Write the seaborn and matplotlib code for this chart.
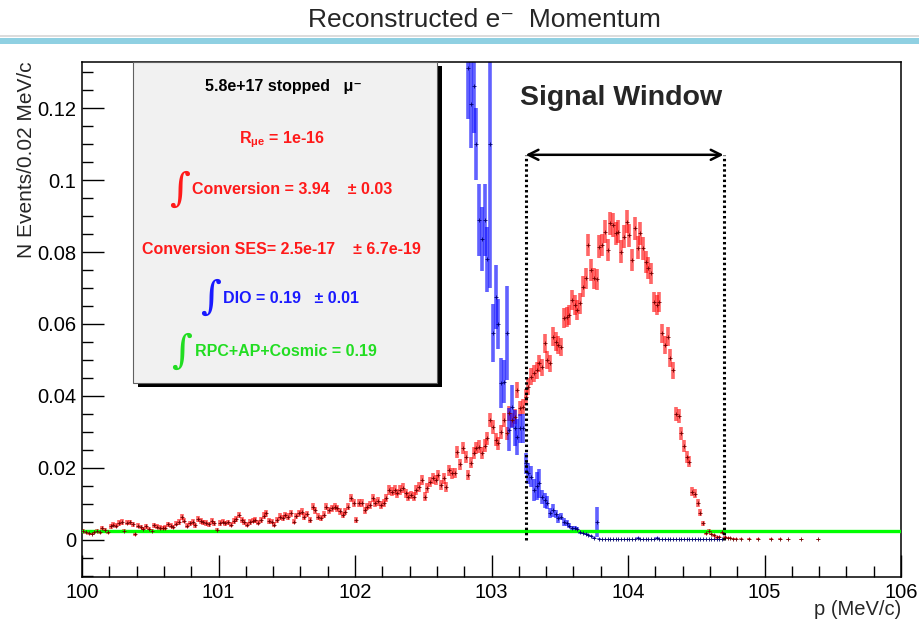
import matplotlib
matplotlib.use("Agg")
import matplotlib.pyplot as plt
from matplotlib.patches import Rectangle
from matplotlib.ticker import FixedLocator, MultipleLocator
import seaborn as sns
import pandas as pd
import numpy as np

# histogram binning (MeV/c)
p_min = 100.0
bin_width = 0.02

# conversion electrons: N events per 0.02 MeV/c bin, first bin starts at 100.00
conversion = [
    0.0025, 0.0021, 0.0019, 0.0018, 0.0023, 0.0024, 0.0022, 0.0032, 0.0027, 0.0023,
    0.0038, 0.0042, 0.0040, 0.0047, 0.0050, 0.0024, 0.0048, 0.0049, 0.0044, 0.0016,
    0.0040, 0.0036, 0.0031, 0.0038, 0.0030, 0.0026, 0.0041, 0.0037, 0.0034, 0.0033,
    0.0034, 0.0044, 0.0040, 0.0036, 0.0045, 0.0050, 0.0064, 0.0054, 0.0040, 0.0046,
    0.0050, 0.0041, 0.0057, 0.0052, 0.0049, 0.0047, 0.0044, 0.0052, 0.0046, 0.0028,
    0.0047, 0.0051, 0.0046, 0.0049, 0.0043, 0.0052, 0.0058, 0.0069, 0.0055, 0.0050,
    0.0042, 0.0050, 0.0054, 0.0056, 0.0048, 0.0055, 0.0068, 0.0074, 0.0052, 0.0051,
    0.0042, 0.0055, 0.0065, 0.0060, 0.0069, 0.0065, 0.0074, 0.0051, 0.0066, 0.0074,
    0.0079, 0.0065, 0.0072, 0.0056, 0.0093, 0.0083, 0.0065, 0.0060, 0.0070, 0.0093,
    0.0083, 0.0088, 0.0093, 0.0088, 0.0080, 0.0069, 0.0079, 0.0093, 0.0116, 0.0102,
    0.0056, 0.0102, 0.0102, 0.0083, 0.0093, 0.0097, 0.0116, 0.0102, 0.0107, 0.0097,
    0.0102, 0.0116, 0.0139, 0.0134, 0.0139, 0.0130, 0.0139, 0.0144, 0.0130, 0.0120,
    0.0125, 0.0120, 0.0139, 0.0148, 0.0167, 0.0120, 0.0144, 0.0162, 0.0171, 0.0167,
    0.0181, 0.0153, 0.0171, 0.0148, 0.0194, 0.0185, 0.0186, 0.0245, 0.0210, 0.0255,
    0.0231, 0.0181, 0.0215, 0.0241, 0.0255, 0.0259, 0.0241, 0.0262, 0.0282, 0.0333,
    0.0315, 0.0278, 0.0269, 0.0300, 0.0333, 0.0296, 0.0352, 0.0333, 0.0343, 0.0417,
    0.0366, 0.0370, 0.0398, 0.0426, 0.0454, 0.0463, 0.0472, 0.0491, 0.0480, 0.0546,
    0.0500, 0.0491, 0.0565, 0.0551, 0.0542, 0.0537, 0.0616, 0.0620, 0.0625, 0.0667,
    0.0653, 0.0639, 0.0657, 0.0704, 0.0727, 0.0819, 0.0750, 0.0727, 0.0724, 0.0815,
    0.0819, 0.0856, 0.0806, 0.0880, 0.0875, 0.0852, 0.0856, 0.0801, 0.0843, 0.0884,
    0.0847, 0.0778, 0.0866, 0.0812, 0.0852, 0.0810, 0.0773, 0.0755, 0.0741, 0.0662,
    0.0653, 0.0662, 0.0574, 0.0542, 0.0565, 0.0505, 0.0472, 0.0350, 0.0344, 0.0296,
    0.0261, 0.0231, 0.0218, 0.0134, 0.0128, 0.0102, 0.0076, 0.0046, 0.0020, 0.0026,
    0.0017, 0.0013, 0.0007, 0.0008, 0.0023, 0.0007, 0.0005, 0.0005, 0.0004, 0.0004,
    0.0, 0.0004, 0.0, 0.0, 0.0003, 0.0, 0.0, 0.0003, 0.0, 0.0,
    0.0, 0.0, 0.0003, 0.0, 0.0, 0.0003, 0.0, 0.0, 0.0002, 0.0,
    0.0, 0.0, 0.0, 0.0002, 0.0, 0.0, 0.0, 0.0, 0.0, 0.0002,
]
# weight of one simulated event, for the Poisson error bars
conv_weight = 1.2e-4

# decay-in-orbit, first filled bin is bin 141 (102.82 MeV/c)
dio_first_bin = 141
dio = [
    0.131, 0.121, 0.126, 0.110, 0.089, 0.0836, 0.089, 0.078, 0.110, 0.0575,
    0.0675, 0.060, 0.0436, 0.044, 0.0575, 0.0306, 0.037, 0.031, 0.0287, 0.031,
    0.031, 0.0213, 0.0185, 0.0176, 0.0139, 0.0150, 0.0158, 0.0120, 0.0110, 0.0103,
    0.0075, 0.0083, 0.0072, 0.0060, 0.0065, 0.0050, 0.0047, 0.0040, 0.0033, 0.0033,
    0.0030, 0.0022, 0.0020, 0.0018, 0.0015, 0.0010, 0.0006, 0.0050, 0.0004, 0.0003,
    0.0003, 0.0003, 0.0002, 0.0003, 0.0003, 0.0002, 0.0003, 0.0003, 0.0002, 0.0003,
    0.0003, 0.0003, 0.0006, 0.0003, 0.0002, 0.0003, 0.0003, 0.0003, 0.0002, 0.0006,
    0.0003, 0.0003, 0.0002, 0.0003, 0.0003, 0.0003, 0.0002, 0.0003, 0.0003, 0.0002,
    0.0003, 0.0003, 0.0003, 0.0002, 0.0003, 0.0003, 0.0002, 0.0003, 0.0003, 0.0002,
    0.0003, 0.0002, 0.0003, 0.0002,
]
dio_err = [
    0.014, 0.012, 0.013, 0.010, 0.010, 0.009, 0.010, 0.009, 0.040, 0.008,
    0.009, 0.007, 0.007, 0.006, 0.013, 0.006, 0.006, 0.005, 0.005, 0.004,
    0.004, 0.003, 0.003, 0.003, 0.003, 0.004, 0.004, 0.002, 0.002, 0.0018,
    0.0015, 0.0018, 0.0012, 0.0012, 0.0010, 0.0010, 0.0008, 0.0008, 0.0006, 0.0006,
    0.0005, 0.0005, 0.0004, 0.0004, 0.0003, 0.0003, 0.0002, 0.0042, 0.0001, 0.0001,
    0.0001, 0.0001, 0.0001, 0.0001, 0.0001, 0.0001, 0.0001, 0.0001, 0.0001, 0.0001,
    0.0001, 0.0001, 0.0002, 0.0001, 0.0001, 0.0001, 0.0001, 0.0001, 0.0001, 0.0002,
    0.0001, 0.0001, 0.0001, 0.0001, 0.0001, 0.0001, 0.0001, 0.0001, 0.0001, 0.0001,
    0.0001, 0.0001, 0.0001, 0.0001, 0.0001, 0.0001, 0.0001, 0.0001, 0.0001, 0.0001,
    0.0001, 0.0001, 0.0001, 0.0001,
]

# RPC + AP + cosmic background per bin
rpc_level = 0.0026

signal_window = [103.25, 104.7]

x_ticks = [100, 101, 102, 103, 104, 105, 106]
y_ticks = [0, 0.02, 0.04, 0.06, 0.08, 0.1, 0.12]
y_tick_labels = ["0", "0.02", "0.04", "0.06", "0.08", "0.1", "0.12"]

# tables for plotting
conv_df = pd.DataFrame({"n": conversion})
conv_df["p"] = p_min + bin_width * (conv_df.index + 0.5)
conv_df["err"] = np.sqrt(conv_df["n"] * conv_weight)
conv_df = conv_df[conv_df["n"] > 0]

dio_df = pd.DataFrame({"n": dio, "err": dio_err})
dio_df["p"] = p_min + bin_width * (dio_first_bin + dio_df.index + 0.5)

sns.set_style("ticks")
fonts = ["Liberation Sans", "DejaVu Sans"]
plt.rcParams["font.family"] = fonts
plt.rcParams["mathtext.fontset"] = "custom"
plt.rcParams["mathtext.rm"] = "Liberation Sans:bold"
plt.rcParams["mathtext.it"] = "Liberation Sans:bold"
plt.rcParams["mathtext.bf"] = "Liberation Sans:bold"

W, H = 920, 622
fig = plt.figure(figsize=(W / 100, H / 100), dpi=100)
ax = fig.add_axes([82 / W, 1 - 577 / H, 819 / W, 515 / H])

# slide decoration: title and blue rule
fig.text(484 / W, 1 - 20 / H, "Reconstructed e\u207b  Momentum", ha="center", va="center",
         fontsize=19, family=fonts)
fig.add_artist(Rectangle((0, 1 - 37 / H), 1, 2 / H, transform=fig.transFigure,
                         facecolor="#dcdcdc", edgecolor="none"))
fig.add_artist(Rectangle((0, 1 - 44 / H), 1, 6 / H, transform=fig.transFigure,
                         facecolor="#8fd0e2", edgecolor="none"))

# error bars (thick, translucent) + small dark bin markers
ax.vlines(conv_df["p"], conv_df["n"] - conv_df["err"], conv_df["n"] + conv_df["err"],
          colors=[(1, 0, 0, 0.6)], lw=2.6, zorder=2)
ax.vlines(dio_df["p"], dio_df["n"] - dio_df["err"], dio_df["n"] + dio_df["err"],
          colors=[(0, 0, 1, 0.62)], lw=2.6, zorder=2)
sns.scatterplot(data=conv_df, x="p", y="n", marker="+", s=9, color="#6e0000",
                linewidth=0.6, ax=ax, zorder=4, legend=False)
sns.scatterplot(data=dio_df, x="p", y="n", marker="+", s=9, color="#00006e",
                linewidth=0.6, ax=ax, zorder=4, legend=False)

ax.axhline(rpc_level, color="#00ff00", lw=2.4, zorder=3)

# signal window
lo, hi = signal_window
arrow_y = 0.107
for xv in signal_window:
    ax.plot([xv, xv], [0, arrow_y], color="black", lw=2.2, linestyle=(0, (0.8, 0.9)), zorder=5)
ax.annotate("", xy=(hi, arrow_y), xytext=(lo, arrow_y),
            arrowprops=dict(arrowstyle="<->", lw=1.8, color="black", mutation_scale=18,
                            shrinkA=0, shrinkB=0), zorder=5)
ax.text(103.95, 0.1228, "Signal Window", ha="center", va="center", fontsize=20.5,
        fontweight="bold")

# info box with drop shadow
bx0, by0, bx1, by1 = 0.0623, 0.3767, 0.4335, 1.0
ax.add_patch(Rectangle((bx0 + 5 / 819, by0 - 4 / 515), bx1 - bx0, by1 - by0, transform=ax.transAxes,
                       facecolor="black", edgecolor="none", zorder=6, clip_on=False))
ax.add_patch(Rectangle((bx0, by0), bx1 - bx0, by1 - by0, transform=ax.transAxes,
                       facecolor="#f1f1f1", edgecolor="#606060", lw=0.8, zorder=7, clip_on=False))

red, blue, green = "#ff1a1a", "#1a1aff", "#22dd22"
tk = dict(transform=ax.transAxes, fontsize=11.5, fontweight="bold", va="center", zorder=8)
integ = dict(transform=ax.transAxes, fontsize=29, family=["DejaVu Serif", "DejaVu Sans"],
             va="center", ha="center", zorder=8)
ax.text(0.2454, 0.9515, "5.8e+17 stopped   \u03bc\u207b", ha="center", color="black", **tk)
ax.text(0.2442, 0.8485, r"R$_{\mu e}$ = 1e-16", ha="center", color=red, **tk)
ax.text(0.1197, 0.7515, "\u222b", color=red, **integ)
ax.text(0.1343, 0.7515, "Conversion = 3.94    \u00b1 0.03", ha="left", color=red, **tk)
ax.text(0.2430, 0.6350, "Conversion SES= 2.5e-17    \u00b1 6.7e-19", ha="center", color=red, **tk)
ax.text(0.1575, 0.5417, "\u222b", color=blue, **integ)
ax.text(0.1722, 0.5417, "DIO = 0.19   \u00b1 0.01", ha="left", color=blue, **tk)
ax.text(0.1221, 0.4369, "\u222b", color=green, **integ)
ax.text(0.1380, 0.4369, "RPC+AP+Cosmic = 0.19", ha="left", color=green, **tk)

# ROOT-like axes
ax.set_xlim(100, 106)
ax.set_ylim(-0.01028, 0.13278)
ax.xaxis.set_major_locator(FixedLocator(x_ticks))
ax.xaxis.set_minor_locator(MultipleLocator(0.2))
ax.yaxis.set_major_locator(FixedLocator(y_ticks))
ax.yaxis.set_minor_locator(MultipleLocator(0.005))
ax.set_xticklabels([str(t) for t in x_ticks])
ax.set_yticklabels(y_tick_labels)
ax.tick_params(which="both", direction="in", top=False, right=False, labelsize=14.5,
               width=1.0, colors="black")
ax.tick_params(which="major", length=16, pad=4)
ax.tick_params(which="minor", length=8)
for s in ax.spines.values():
    s.set_linewidth(1.1)
    s.set_color("black")
    s.set_visible(True)

ax.set_xlabel("p (MeV/c)", fontsize=14.5, loc="right")
ax.xaxis.set_label_coords(1.0, -0.045)
ax.set_ylabel("N Events/0.02 MeV/c", fontsize=15, loc="top")
ax.yaxis.set_label_coords(-0.056, 1.0)

fig.savefig("out.png", dpi=100)
